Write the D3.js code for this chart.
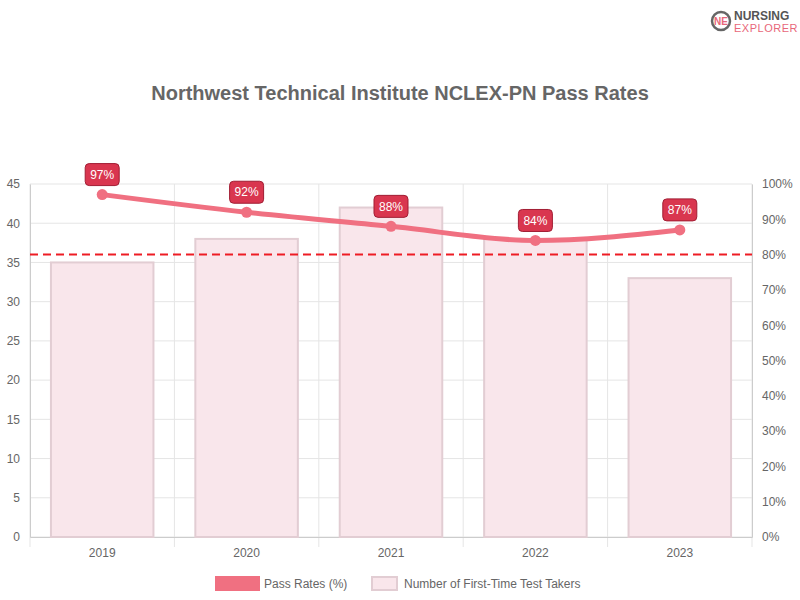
<!DOCTYPE html>
<html><head><meta charset="utf-8">
<script src="https://cdn.jsdelivr.net/npm/d3@7"></script>
<style>body{margin:0;background:#fff;font-family:"Liberation Sans",Arial,sans-serif}</style>
</head><body><div id="chart"></div>
<script>
// chart data
var years = ["2019", "2020", "2021", "2022", "2023"];
var takers = [35, 38, 42, 38, 33];
var passRates = [97, 92, 88, 84, 87];
var leftTicks = [0, 5, 10, 15, 20, 25, 30, 35, 40, 45];
var rightTicks = [0, 10, 20, 30, 40, 50, 60, 70, 80, 90, 100];
var benchmark = 80;

var w = 800, h = 600;
var font = "Liberation Sans, Arial, sans-serif";
var svg = d3.select('#chart').append("svg").attr("width", w).attr("height", h)
  .attr("font-family", font);
var pLeft = 30, pRight = 752, pTop = 184, pBottom = 537;

var x = d3.scaleBand().domain(years).range([pLeft, pRight]).paddingInner(0.29).paddingOuter(0.145);
var xc = d3.scaleBand().domain(years).range([pLeft, pRight]);
var y = d3.scaleLinear().domain([0, 45]).range([pBottom, pTop]);
var y2 = d3.scaleLinear().domain([0, 100]).range([pBottom, pTop]);

// grid
svg.append("g").selectAll("line").data(leftTicks).join("line")
  .attr("x1", pLeft).attr("x2", pRight).attr("y1", d => y(d)).attr("y2", d => y(d))
  .attr("stroke", "#e5e5e5");
svg.append("g").selectAll("line").data(years.concat(["end"])).join("line")
  .attr("x1", (d, i) => pLeft + i * xc.bandwidth()).attr("x2", (d, i) => pLeft + i * xc.bandwidth())
  .attr("y1", pTop).attr("y2", pBottom + 10).attr("stroke", "#e5e5e5");

// axes
var gl = svg.append("g").attr("transform", "translate(" + pLeft + ",0)")
  .call(d3.axisLeft(y).tickValues(leftTicks).tickSize(0).tickPadding(10));
var gr = svg.append("g").attr("transform", "translate(" + pRight + ",0)")
  .call(d3.axisRight(y2).tickValues(rightTicks).tickSize(0).tickPadding(10).tickFormat(d => d + "%"));
var gx = svg.append("g").attr("transform", "translate(0," + pBottom + ")")
  .call(d3.axisBottom(xc).tickSize(0).tickPadding(11));
[gl, gr, gx].forEach(function(g){
  g.select(".domain").attr("stroke", "#ccc");
  g.selectAll("text").attr("fill", "#666").attr("font-size", 12).attr("font-family", font);
});

// bars
svg.append("g").selectAll("rect").data(takers).join("rect")
  .attr("x", (d, i) => x(years[i])).attr("width", x.bandwidth())
  .attr("y", d => y(d)).attr("height", d => pBottom - y(d))
  .attr("fill", "#f9e6eb").attr("stroke", "#e2cdd3").attr("stroke-width", 2);

// benchmark
svg.append("line").attr("x1", pLeft).attr("x2", pRight)
  .attr("y1", y2(benchmark)).attr("y2", y2(benchmark))
  .attr("stroke", "#ee1c24").attr("stroke-width", 2).attr("stroke-dasharray", "8,5");

// line
var line = d3.line().x((d, i) => xc(years[i]) + xc.bandwidth() / 2).y(d => y2(d)).curve(d3.curveMonotoneX);
svg.append("path").datum(passRates).attr("d", line)
  .attr("fill", "none").attr("stroke", "#f07081").attr("stroke-width", 5);
svg.append("g").selectAll("circle").data(passRates).join("circle")
  .attr("cx", (d, i) => xc(years[i]) + xc.bandwidth() / 2).attr("cy", d => y2(d)).attr("r", 5.5)
  .attr("fill", "#f07081");

// labels
var lab = svg.append("g").selectAll("g").data(passRates).join("g")
  .attr("transform", (d, i) => "translate(" + (xc(years[i]) + xc.bandwidth() / 2) + "," + (y2(d) - 20) + ")");
lab.append("rect").attr("x", -17).attr("y", -11).attr("width", 34).attr("height", 22).attr("rx", 4)
  .attr("fill", "#d9364f").attr("stroke", "#a11d33");
lab.append("text").text(d => d + "%").attr("text-anchor", "middle").attr("dy", "0.35em")
  .attr("fill", "#fff").attr("font-size", 12);

// title
svg.append("text").text("Northwest Technical Institute NCLEX-PN Pass Rates")
  .attr("x", 400).attr("y", 100).attr("text-anchor", "middle")
  .attr("font-size", 20).attr("font-weight", "bold").attr("fill", "#666");

// legend
svg.append("rect").attr("x", 215).attr("y", 576).attr("width", 45).attr("height", 15).attr("fill", "#f07081");
svg.append("text").text("Pass Rates (%)").attr("x", 264).attr("y", 588).attr("font-size", 12).attr("fill", "#666");
svg.append("rect").attr("x", 372).attr("y", 577).attr("width", 25).attr("height", 13)
  .attr("fill", "#f9e6eb").attr("stroke", "#e2cdd3").attr("stroke-width", 2);
svg.append("text").text("Number of First-Time Test Takers").attr("x", 404).attr("y", 588).attr("font-size", 12).attr("fill", "#666");

// logo
var logo = svg.append("g").attr("transform", "translate(721,21)");
logo.append("circle").attr("r", 9).attr("fill", "none").attr("stroke", "#666").attr("stroke-width", 2.5);
logo.append("text").text("NE").attr("text-anchor", "middle").attr("dy", "0.35em").attr("font-size", 10)
  .attr("font-weight", "bold").attr("fill", "#e8677a");
logo.append("text").text("NURSING").attr("x", 13).attr("y", -1).attr("font-size", 12).attr("font-weight", "bold").attr("fill", "#555");
logo.append("text").text("EXPLORER").attr("x", 13).attr("y", 11).attr("font-size", 11).attr("fill", "#e8677a").attr("letter-spacing", 0.5);
</script></body></html>
